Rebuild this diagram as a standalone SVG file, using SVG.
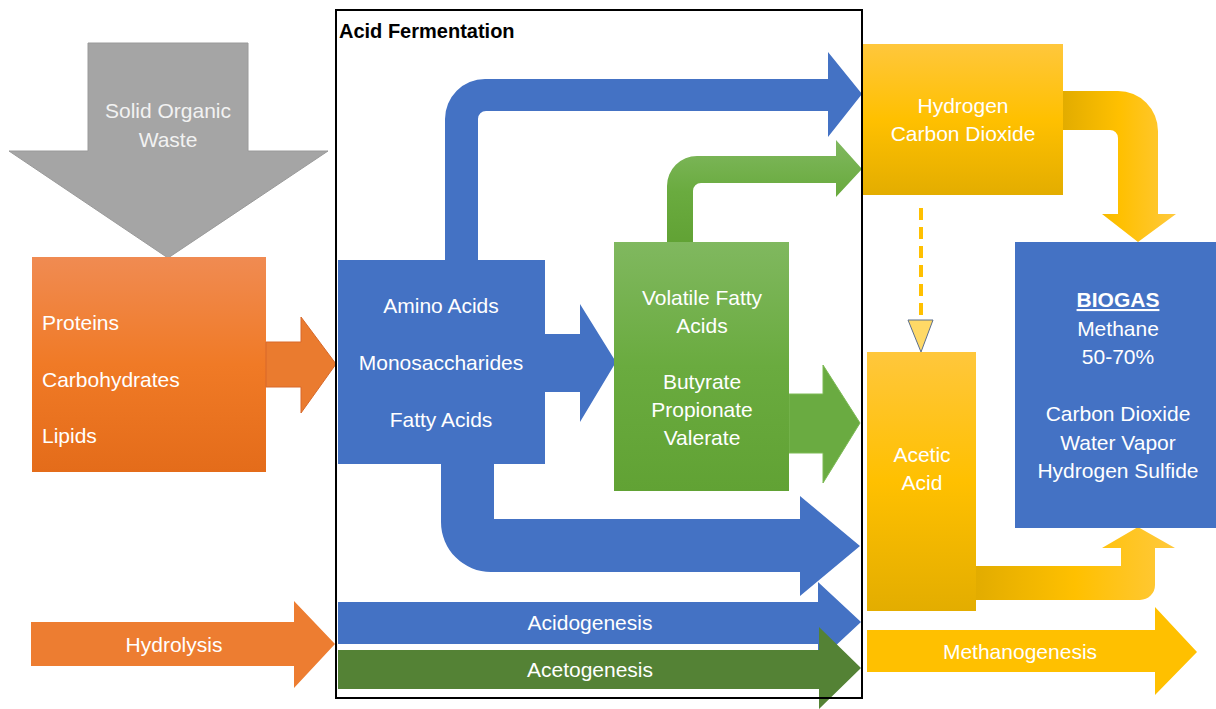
<svg xmlns="http://www.w3.org/2000/svg" width="1216" height="709" viewBox="0 0 1216 709">
  <style>
    text { font-family: "Liberation Sans", Arial, sans-serif; font-size: 21px; fill: #ffffff; }
    .mid { text-anchor: middle; }
    .title { font-size: 20px; font-weight: bold; fill: #000000; }
    .soft { fill: #f2f2f2; }
    .bold { font-weight: bold; text-decoration: underline; }
  </style>
  <defs>
    <linearGradient id="gOrange" x1="0" y1="0" x2="0" y2="1">
      <stop offset="0" stop-color="#f08b52"/>
      <stop offset="0.5" stop-color="#f07a26"/>
      <stop offset="1" stop-color="#e46c1a"/>
    </linearGradient>
    <linearGradient id="gGreen" x1="0" y1="0" x2="0" y2="1">
      <stop offset="0" stop-color="#80b85f"/>
      <stop offset="0.5" stop-color="#6aab3f"/>
      <stop offset="1" stop-color="#61a234"/>
    </linearGradient>
    <linearGradient id="gYellow" x1="0" y1="0" x2="0" y2="1">
      <stop offset="0" stop-color="#ffc73c"/>
      <stop offset="0.5" stop-color="#ffc000"/>
      <stop offset="1" stop-color="#e3ad00"/>
    </linearGradient>
    <linearGradient id="gYellowH" x1="0" y1="0" x2="1" y2="0">
      <stop offset="0" stop-color="#e2ac00"/>
      <stop offset="0.5" stop-color="#ffc000"/>
      <stop offset="1" stop-color="#ffc93d"/>
    </linearGradient>
  </defs>

  <!-- input waste arrow -->
  <g id="solid-waste">
    <polygon points="88,43 248,43 248,151 328,151 168,258 9,151 88,151" fill="#a5a5a5" stroke="#9a9a9a" stroke-width="1"/>
    <text class="mid soft" x="168" y="118">Solid Organic</text>
    <text class="mid soft" x="168" y="147">Waste</text>
  </g>

  <g id="polymers">
    <rect x="32" y="257" width="234" height="215" fill="url(#gOrange)"/>
    <text x="42" y="330">Proteins</text>
    <text x="42" y="387">Carbohydrates</text>
    <text x="42" y="443">Lipids</text>
  </g>

  <g id="monomers">
    <rect x="338" y="260" width="207" height="204" fill="#4472c4"/>
    <text class="mid" x="441" y="313">Amino Acids</text>
    <text class="mid" x="441" y="370">Monosaccharides</text>
    <text class="mid" x="441" y="427">Fatty Acids</text>
  </g>

  <g id="connectors">
    <!-- polymers to monomers -->
    <path d="M266,342 H301 V317 L336,364 L301,413 V387 H266 Z" fill="#ea7b2f" stroke="#d8692a" stroke-width="1"/>
    <!-- monomers to hydrogen / CO2 -->
    <path d="M445,261 V119 A40,40 0 0 1 485,79 H828 V52 L862,94 L828,137 V111 H486 A8,8 0 0 0 478,119 V261 Z" fill="#4472c4"/>
    <!-- monomers to VFA -->
    <path d="M544,334 H580 V304 L616,362 L580,422 V392 H544 Z" fill="#4472c4"/>
    <!-- monomers to acetic acid -->
    <path d="M441,463 V522 A50,50 0 0 0 491,572 H800 V596 L860,546 L800,496 V519 H494 V463 Z" fill="#4472c4"/>
    <!-- VFA to hydrogen / CO2 -->
    <path d="M667,244 V186 A30,30 0 0 1 697,156 H836 V140 L862,169 L836,197 V183 H701 A8,8 0 0 0 693,191 V244 Z" fill="url(#gGreen)"/>
    <!-- VFA to acetic acid -->
    <path d="M789,394 H823 V365 L860,423 L823,483 V453 H789 Z" fill="#6aab41" stroke="#7dba55" stroke-width="1"/>
    <!-- hydrogen / CO2 to biogas -->
    <path d="M1063,91 H1118 A40,40 0 0 1 1158,131 V214 H1176 L1138,242 L1102,214 H1118 V138 A8,8 0 0 0 1110,130 H1063 Z" fill="url(#gYellowH)"/>
    <!-- hydrogen / CO2 to acetic acid (dashed) -->
    <line x1="921" y1="208" x2="921" y2="320" stroke="#ffc000" stroke-width="4" stroke-dasharray="12 7"/>
    <polygon points="908,320 933,320 921,352" fill="#ffd966" stroke="#5b6e8c" stroke-width="1"/>
    <!-- acetic acid to biogas -->
    <path d="M976,566 H1121 V548 H1102 L1138,527 L1175,548 H1155 V585 A15,15 0 0 1 1140,600 H976 Z" fill="url(#gYellowH)"/>
  </g>

  <g id="vfa">
    <rect x="614" y="242" width="175" height="249" fill="url(#gGreen)"/>
    <text class="mid" x="702" y="305">Volatile Fatty</text>
    <text class="mid" x="702" y="333">Acids</text>
    <text class="mid" x="702" y="389">Butyrate</text>
    <text class="mid" x="702" y="417">Propionate</text>
    <text class="mid" x="702" y="445">Valerate</text>
  </g>

  <g id="hydrogen-co2">
    <rect x="863" y="44" width="200" height="151" fill="url(#gYellow)"/>
    <text class="mid" x="963" y="113">Hydrogen</text>
    <text class="mid" x="963" y="141">Carbon Dioxide</text>
  </g>

  <g id="acetic-acid">
    <rect x="867" y="352" width="109" height="259" fill="url(#gYellow)"/>
    <text class="mid" x="922" y="462">Acetic</text>
    <text class="mid" x="922" y="490">Acid</text>
  </g>

  <g id="biogas">
    <rect x="1015" y="242" width="201" height="286" fill="#4472c4"/>
    <text class="mid bold" x="1118" y="307">BIOGAS</text>
    <text class="mid" x="1118" y="336">Methane</text>
    <text class="mid" x="1118" y="364">50-70%</text>
    <text class="mid" x="1118" y="421">Carbon Dioxide</text>
    <text class="mid" x="1118" y="450">Water Vapor</text>
    <text class="mid" x="1118" y="478">Hydrogen Sulfide</text>
  </g>

  <!-- process stage arrows -->
  <g id="hydrolysis">
    <path d="M31,622 H294 V601 L335,644 L294,688 V666 H31 Z" fill="#ed7d31"/>
    <text class="mid" x="174" y="652">Hydrolysis</text>
  </g>
  <g id="acidogenesis">
    <path d="M338,602 H818 V582 L861,622 L818,662 V644 H338 Z" fill="#4472c4"/>
    <text class="mid" x="590" y="630">Acidogenesis</text>
  </g>
  <g id="acetogenesis">
    <path d="M338,650 H819 V627 L861,668 L819,709 V689 H338 Z" fill="#548235"/>
    <text class="mid" x="590" y="677">Acetogenesis</text>
  </g>
  <g id="methanogenesis">
    <path d="M867,630 H1155 V607 L1197,652 L1155,695 V672 H867 Z" fill="#ffc000"/>
    <text class="mid" x="1020" y="659">Methanogenesis</text>
  </g>

  <g id="acid-fermentation">
    <rect x="336" y="10" width="526" height="688" fill="none" stroke="#000000" stroke-width="2"/>
    <text class="title" x="339" y="38">Acid Fermentation</text>
  </g>
</svg>
